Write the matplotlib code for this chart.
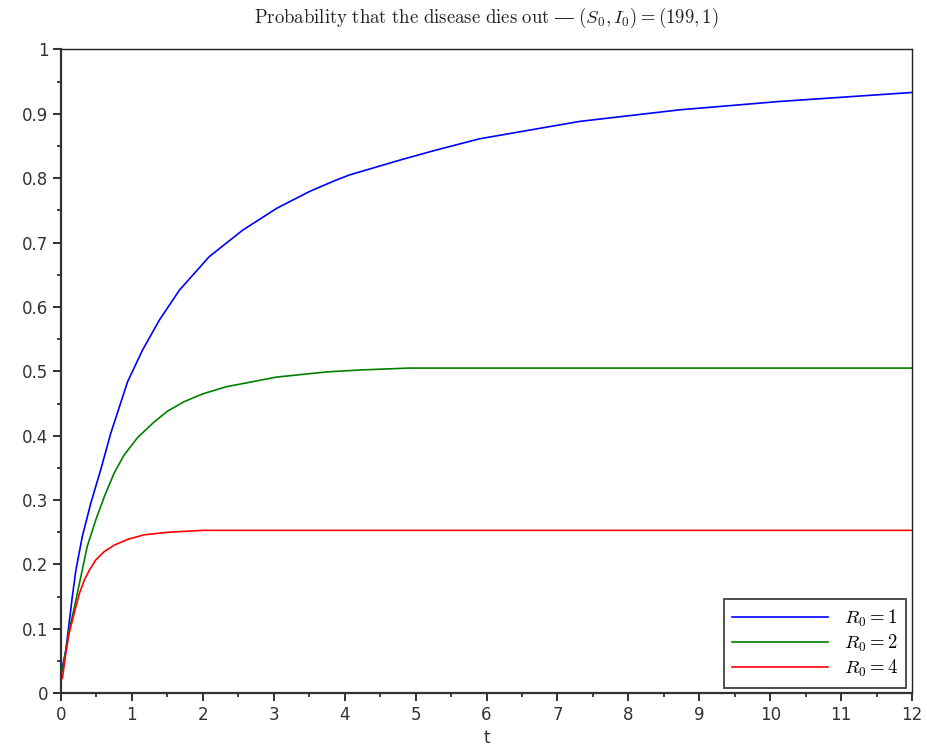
import matplotlib
matplotlib.use("Agg")
import matplotlib.pyplot as plt
from matplotlib.ticker import FixedLocator

plt.rcParams['mathtext.fontset'] = 'cm'

# R0 = 1 (blue)
t_r1 = [0.02, 0.068, 0.115, 0.16, 0.21, 0.30, 0.42, 0.56, 0.70, 0.94, 1.15, 1.39, 1.67,
        2.09, 2.56, 3.04, 3.50, 3.88, 4.07, 4.78, 5.27, 5.9, 7.31, 8.72, 10.13, 12.0]
p_r1 = [0.040, 0.067, 0.109, 0.150, 0.191, 0.243, 0.295, 0.347, 0.403, 0.484, 0.533, 0.580,
        0.626, 0.678, 0.719, 0.753, 0.779, 0.797, 0.805, 0.828, 0.843, 0.861, 0.888, 0.906,
        0.919, 0.933]
# R0 = 2 (green)
t_r2 = [0.02, 0.068, 0.115, 0.19, 0.28, 0.37, 0.49, 0.61, 0.75, 0.89, 1.08, 1.31, 1.50,
        1.74, 2.0, 2.33, 3.04, 3.74, 4.21, 4.9, 12.0]
p_r2 = [0.035, 0.065, 0.098, 0.134, 0.181, 0.228, 0.269, 0.305, 0.342, 0.370, 0.397, 0.421,
        0.438, 0.453, 0.465, 0.476, 0.491, 0.499, 0.502, 0.505, 0.505]
# R0 = 4 (red)
t_r4 = [0.02, 0.068, 0.115, 0.19, 0.26, 0.33, 0.40, 0.49, 0.61, 0.75, 0.94, 1.17, 1.5,
        2.0, 12.0]
p_r4 = [0.023, 0.062, 0.093, 0.126, 0.155, 0.176, 0.191, 0.207, 0.220, 0.230, 0.239, 0.246,
        0.250, 0.253, 0.253]

labels = [r"$R_0 = 1$", r"$R_0 = 2$", r"$R_0 = 4$"]
colors = ["#0000ff", "#008000", "#ff0000"]
xticks = list(range(13))
xtick_labels = [str(i) for i in xticks]
yticks = [i / 10 for i in range(11)]
ytick_labels = ["0", "0.1", "0.2", "0.3", "0.4", "0.5", "0.6", "0.7", "0.8", "0.9", "1"]

fig = plt.figure(figsize=(9.28, 7.53), dpi=100)
ax = fig.add_axes([0.0657, 0.0793, 0.9171, 0.8552])

for tt, y, lab, c in zip([t_r1, t_r2, t_r4], [p_r1, p_r2, p_r4], labels, colors):
    ax.plot(tt, y, color=c, lw=1.2, label=lab)

ax.set_xlim(0, 12)
ax.set_ylim(0, 1)
ax.set_xticks(xticks)
ax.set_xticklabels(xtick_labels)
ax.set_yticks(yticks)
ax.set_yticklabels(ytick_labels)
ax.xaxis.set_minor_locator(FixedLocator([i + 0.5 for i in range(12)]))
ax.yaxis.set_minor_locator(FixedLocator([i / 10 + 0.05 for i in range(10)]))

for s in ['left', 'bottom']:
    ax.spines[s].set_linewidth(1.6)
    ax.spines[s].set_color('#333333')
for s in ['top', 'right']:
    ax.spines[s].set_linewidth(1.0)
    ax.spines[s].set_color('#222222')

ax.tick_params(which='major', direction='out', length=6, width=1.3, color='#222222',
               labelsize=12, labelcolor='#333333', pad=3)
ax.tick_params(which='minor', direction='out', length=3, width=1.2, color='#222222')

ax.set_xlabel("t", fontsize=12, color='#333333', labelpad=4)
title = (r"$\mathrm{Probability\ that\ the\ disease\ dies\ out\ }" + "\u2014"
         + r"\ (S_0, I_0) = (199, 1)$")
ax.set_title(title, fontsize=13.5, color='#222222', pad=19)

leg = ax.legend(loc='lower right', fontsize=13.5, frameon=True, fancybox=False,
                edgecolor='#111111', handlelength=5.1, handletextpad=0.85,
                borderpad=0.45, labelspacing=0.22, borderaxespad=0.3)
leg.get_frame().set_linewidth(1.3)

fig.savefig("out.png", dpi=100)
